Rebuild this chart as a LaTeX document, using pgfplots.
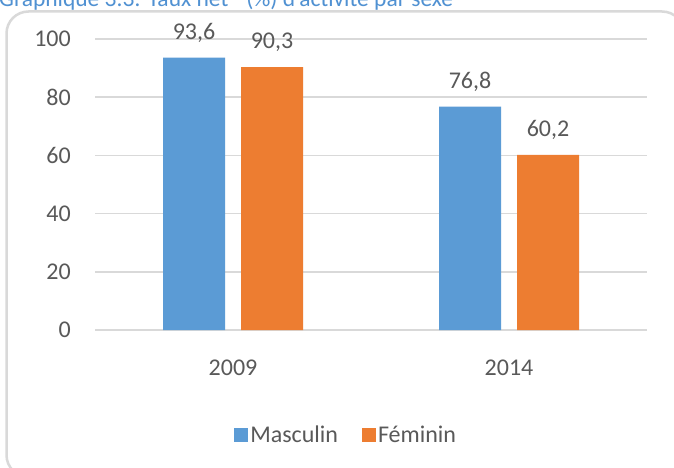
\documentclass[border=0pt]{standalone}
\usepackage{pgfplots}
\pgfplotsset{compat=1.18}
\usepackage{fontspec}
\setmainfont{Carlito}
\definecolor{cblue}{RGB}{91,155,213}
\definecolor{corange}{RGB}{237,125,49}
\definecolor{ctext}{RGB}{89,89,89}
\definecolor{cgrid}{RGB}{217,217,217}
\definecolor{ctitle}{RGB}{80,145,210}
\begin{document}
\begin{tikzpicture}[x=1pt,y=1pt]
\clip (0,0) rectangle (674,467);
\fill[white] (0,0) rectangle (674,467);
\draw[cgrid, line width=2.5pt, rounded corners=22pt] (6.5,-10) rectangle (684,455.5);
\node[anchor=base west, inner sep=0pt, text=ctitle, font=\fontsize{23.5}{26}\selectfont] at (-1,460) {Graphique 3.3: Taux net\,\textsuperscript{1} (\%) d'activité par sexe};
\begin{axis}[
  at={(95pt,137pt)}, anchor=south west,
  scale only axis, width=552pt, height=291pt,
  xmin=-0.5, xmax=1.5, ymin=0, ymax=100,
  ytick={0,20,40,60,80,100},
  xtick={0,1}, xticklabels={2009,2014},
  ybar=16pt, bar width=62pt,
  axis line style={draw=none},
  major tick length=0pt,
  ymajorgrids, grid style={cgrid, line width=1.6pt},
  /pgf/number format/assume math mode=true,
  ticklabel style={font=\fontsize{24}{28}\selectfont, text=ctext, inner sep=0pt},
  yticklabel style={anchor=east, xshift=-24pt},
  xticklabel style={anchor=base, yshift=-45pt},
  nodes near coords,
  nodes near coords style={anchor=base, yshift=18.5pt, inner sep=0pt, font=\fontsize{24}{28}\selectfont, text=ctext,
    /pgf/number format/.cd, use comma, fixed, fixed zerofill, precision=1, assume math mode=true},
  legend style={at={(0.455,-0.361)}, anchor=center, draw=none, fill=none, legend columns=2,
    font=\fontsize{24}{28}\selectfont, text=ctext,
    /tikz/every even column/.append style={column sep=22pt}},
  legend cell align=left,
  legend image code/.code={\fill[#1] (0pt,-7pt) rectangle (14pt,7pt);},
]
\addplot[fill=cblue, draw=none] coordinates {(0,93.6) (1,76.8)};
\addplot[fill=corange, draw=none] coordinates {(0,90.3) (1,60.2)};
\legend{Masculin, Féminin}
\end{axis}
\end{tikzpicture}
\end{document}
